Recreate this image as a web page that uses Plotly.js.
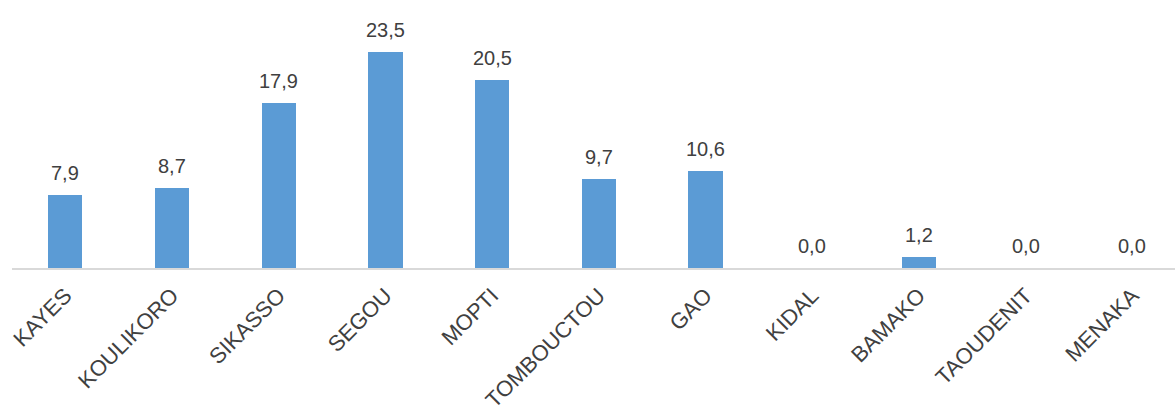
<!DOCTYPE html>
<html>
<head>
<meta charset="utf-8">
<script src="https://cdn.plot.ly/plotly-3.0.1.min.js"></script>
<style>html,body{margin:0;padding:0;background:#fff;overflow:hidden}#chart{width:1175px;height:405px}</style>
</head>
<body>
<div id="chart"></div>
<script>
const regions = ["KAYES","KOULIKORO","SIKASSO","SEGOU","MOPTI","TOMBOUCTOU","GAO","KIDAL","BAMAKO","TAOUDENIT","MENAKA"];
const values = [7.9, 8.7, 17.9, 23.5, 20.5, 9.7, 10.6, 0.0, 1.2, 0.0, 0.0];
const labels = ["7,9","8,7","17,9","23,5","20,5","9,7","10,6","0,0","1,2","0,0","0,0"];

const FONT = "'Liberation Sans', Arial, sans-serif";

const trace = {
  type: 'bar',
  x: regions,
  y: values,
  width: 0.32,
  marker: {color: '#5b9bd5'},
  hoverinfo: 'skip'
};

const annotations = regions.map((r, i) => ({
  x: r, y: values[i], xref: 'x', yref: 'y',
  text: labels[i], showarrow: false,
  yanchor: 'bottom', yshift: 9,
  font: {family: FONT, size: 20, color: '#404040'}
}));

const layout = {
  width: 1175, height: 405,
  margin: {l: 12, r: 0, t: 10, b: 137},
  paper_bgcolor: '#fff', plot_bgcolor: '#fff',
  showlegend: false,
  bargap: 0,
  xaxis: {
    type: 'category',
    range: [-0.5, 10.4],
    showline: true, linecolor: '#d9d9d9', linewidth: 2,
    showgrid: false, zeroline: false,
    ticks: '', tickangle: -45,
    ticklabelstandoff: 4,
    tickfont: {family: FONT, size: 22, color: '#404040'},
    fixedrange: true
  },
  yaxis: {
    range: [0, 28.07],
    visible: false, showgrid: false, zeroline: false,
    fixedrange: true
  },
  annotations: annotations
};

Plotly.newPlot('chart', [trace], layout, {displayModeBar: false, staticPlot: true});
</script>
</body>
</html>
